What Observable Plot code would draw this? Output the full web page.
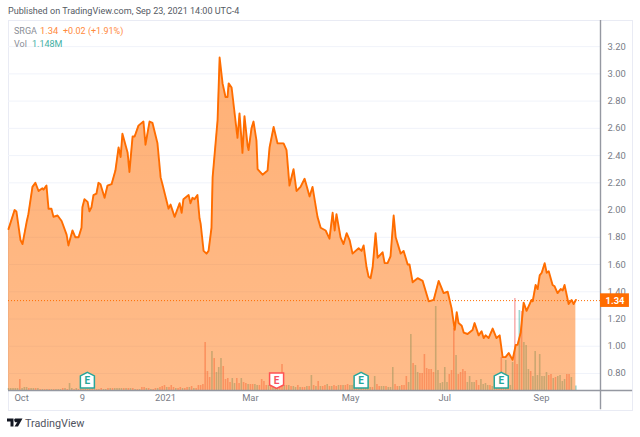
<!DOCTYPE html>
<html>
<head>
<meta charset="utf-8">
<script src="https://cdn.jsdelivr.net/npm/d3@7"></script>
<script src="https://cdn.jsdelivr.net/npm/@observablehq/plot@0.6"></script>
<style>
html,body{margin:0;padding:0;background:#fff;}
#page{position:relative;width:640px;height:437px;overflow:hidden;font-family:Roboto,sans-serif;}
#frame{position:absolute;left:8px;top:20px;width:623px;height:389px;border:1px solid #e9ebf4;box-sizing:content-box;}
#chart{position:absolute;left:0;top:0;}
.t{position:absolute;white-space:nowrap;line-height:12px;}
</style>
</head>
<body>
<div id="page">
  <div id="frame"></div>
  <div id="chart"></div>
  <div class="t" style="left:8px;top:5px;font-size:9.05px;color:#555a63;">Published on TradingView.com, Sep 23, 2021 14:00 UTC-4</div>
  <div class="t" style="left:14px;top:25px;font-size:9px;color:#8a8e96;">SRGA</div>
  <div class="t" style="left:40px;top:25px;font-size:9.4px;color:#ff8a3c;">1.34</div>
  <div class="t" style="left:63px;top:25px;font-size:9px;color:#ff8a3c;">+0.02 (+1.91%)</div>
  <div class="t" style="left:14px;top:38px;font-size:9px;color:#8a8e96;">Vol</div>
  <div class="t" style="left:32px;top:38px;font-size:9px;color:#3fb0a4;">1.148M</div>
  <svg style="position:absolute;left:7px;top:418px" width="16" height="10" viewBox="0 0 16 10">
    <path d="M0 0.5H6.5V8.5H3.5V3.5H0Z M8 0.5H15.5L11 8.5H7.5L10.5 3.8A1.6 1.6 0 1 1 8 0.5Z" fill="#131722"/>
  </svg>
  <div class="t" style="left:25px;top:418px;font-size:10.8px;color:#50535e;">TradingView</div>
</div>
<script>
// Price line: session number (trading day since the left edge) and close
const sessions = [0,2.7,3.5,5.3,6.2,8,8.8,10.6,11.9,13.3,15,15.5,16.8,17.7,19,19.9,21.7,23.5,25.7,26.5,28.3,29.6,31,32.3,32.7,33.6,35,35.8,36.7,37.6,38.9,39.8,40.7,42.5,43.8,45.6,47.3,48.7,49.6,50.4,52.7,53.5,54.9,55.8,57.5,59.7,60.6,62.4,63.7,65.9,67.3,68.1,70.8,71.7,73.5,75.7,76.6,77.4,79.7,80.5,81.4,82.3,83.6,84.5,85,86.3,87.6,88.5,89.8,90.3,92.5,93.4,94.7,96,96.9,97.4,98.7,101.3,102.2,103.5,104.4,105.8,106.2,107.5,108.4,109.7,110.2,112.4,114.6,115.5,117.3,119,121.7,123,124.3,126.1,127.4,129.2,131,133.2,134.5,136.7,138.1,140.3,142,143.4,144.3,145.1,146.9,148.2,149.6,150.9,152.2,154.9,156.2,157.1,158.4,159.3,160.2,161.1,162.4,163.3,165.5,166.4,167.7,169,170.4,171.3,173.5,174.8,176.6,177.4,178.8,181,183.2,185.9,188.1,190.3,192.5,194.3,196,197.4,198.3,199.1,200.5,201.4,203.1,205.3,206.2,208,209.3,210.2,211.1,212.4,214.2,215.9,217.3,218.6,219.9,221.3,223,224.4,225.2,226.6,227.9,229.2,231.4,231.9,233.2,234.1,235,235.9,237.2,238.1,239,240.7,241.6,242.9,244.3,245.2,246,247.8,249.1,250,251];
const closes = [1.86,2.00,1.99,1.78,1.75,1.91,1.97,2.17,2.20,2.14,2.16,2.15,2.18,2.01,2.01,1.95,1.96,1.92,1.82,1.74,1.85,1.80,1.80,1.87,2.02,2.08,2.06,1.99,2.02,2.11,2.12,2.20,2.19,2.09,2.18,2.19,2.29,2.46,2.39,2.56,2.42,2.28,2.54,2.54,2.62,2.65,2.48,2.65,2.64,2.49,2.24,2.19,2.01,2.04,1.95,2.05,1.98,2.08,2.11,2.05,2.09,2.08,2.11,1.94,1.90,1.70,1.68,1.70,1.87,2.24,2.66,3.12,2.93,2.83,2.83,2.93,2.90,2.53,2.71,2.42,2.69,2.47,2.44,2.60,2.65,2.51,2.30,2.26,2.29,2.46,2.61,2.49,2.49,2.44,2.18,2.30,2.14,2.17,2.23,2.10,2.17,1.95,1.87,1.85,1.79,1.98,1.85,1.97,1.80,1.75,1.83,1.78,1.68,1.72,1.70,1.74,1.58,1.51,1.50,1.58,1.83,1.65,1.69,1.61,1.61,1.66,1.96,1.80,1.68,1.70,1.60,1.60,1.47,1.50,1.48,1.33,1.34,1.48,1.39,1.40,1.28,1.12,1.25,1.17,1.15,1.10,1.09,1.12,1.17,1.08,1.11,1.06,1.08,1.06,1.13,1.06,1.08,0.92,0.92,0.95,0.90,1.01,1.01,1.10,1.32,1.26,1.34,1.33,1.45,1.42,1.52,1.54,1.61,1.54,1.55,1.45,1.44,1.39,1.42,1.41,1.45,1.31,1.34,1.31,1.34];

// Volume per session, in units of about 0.26M shares
const volumes = [2,2,2,2,2,11,2,3,3,2,2,2,2,2,1,1,1,1,1,1,1,1,1,1,2,2,1,7,2,1,2,1,1,1,1,1,1,2,1,1,1,2,1,1,2,2,2,2,2,2,2,2,2,2,2,2,1,1,1,3,3,2,2,1,1,2,2,3,4,5,3,3,5,3,2,2,3,2,2,3,3,4,2,2,5,5,6,48,19,13,39,32,18,23,32,24,11,12,8,12,7,12,7,12,8,7,6,6,6,6,5,5,11,9,5,5,6,5,5,5,6,26,5,5,5,4,4,3,5,3,3,3,4,4,15,5,4,9,4,4,5,6,4,4,5,4,5,5,5,5,6,5,5,6,4,4,4,4,4,4,3,3,14,6,4,4,4,4,3,3,23,6,4,4,5,5,14,8,56,27,25,18,17,17,36,22,21,21,18,84,20,7,8,23,8,16,20,62,35,16,18,21,19,8,14,8,8,10,5,11,6,7,5,5,4,4,4,4,33,10,30,8,5,28,92,26,80,79,48,45,21,19,14,39,15,36,14,14,18,15,16,12,13,14,15,9,11,16,16,13,0,4.4];
// 1 = up session (green bar), 0 = down session (red bar)
const upDays = [1,1,1,1,1,0,1,1,1,0,1,1,0,1,0,1,0,1,0,1,0,1,1,1,0,1,0,1,1,0,1,0,1,0,1,0,1,0,1,0,1,0,1,1,0,1,0,1,1,1,1,0,1,0,1,0,1,0,1,0,0,1,0,1,0,0,1,0,0,0,1,0,0,0,1,0,0,1,0,0,1,0,1,0,0,0,0,0,0,0,1,0,1,1,1,0,0,0,0,1,1,0,0,1,0,0,1,0,0,1,1,0,0,0,0,1,0,1,1,1,0,0,1,0,1,0,1,1,0,1,0,0,1,0,1,0,1,0,1,0,0,1,0,1,0,0,1,0,1,0,0,1,1,1,0,1,1,0,1,1,1,0,1,0,0,1,1,0,1,1,1,0,0,1,0,0,0,1,1,0,1,1,0,0,0,0,0,0,0,1,1,1,1,1,1,0,0,0,1,0,0,0,0,1,1,1,1,0,0,1,1,1,1,0,1,1,0,0,0,0,1,0,1,1,0,0,1,0,1,1,1,0,1,1,1,1,1,1,1,0,0,1,0,1,1,1,1,0,0,1,1,1];

const priceTicks = [0.8,1.0,1.2,1.4,1.6,1.8,2.0,2.2,2.4,2.6,2.8,3.0,3.2];
const dateTickSessions = [5.8,32.7,69.5,107,151.3,193,235.8];
const dateTickLabels = ["Oct","9","2021","Mar","May","Jul","Sep"];
const lastPrice = 1.335;
const lastLabel = "1.34";
const earnings = [
  {session:34.9, kind:"beat"},
  {session:156, kind:"beat"},
  {session:218, kind:"beat"},
  {session:118.6, kind:"miss"}
];

const ORANGE = "#ff6d00", TEAL = "#26a69a", RED = "#ef5350";
const yMin = 0.675, yMax = 3.392, xMax = 261.9;
const pxPerUnit = 136.2;

const priceRows = sessions.map((t,i)=>({t, p:closes[i], b:yMin}));
const volRows = volumes.map((v,i)=>({t:i, b:yMin, top:yMin + v/pxPerUnit, up:upDays[i]}));

const upFlag = {draw(c,size){const s=Math.sqrt(size/Math.PI)/7;
  c.moveTo(0,-8*s);c.lineTo(7*s,-4.5*s);c.lineTo(7*s,7.5*s);c.lineTo(-7*s,7.5*s);c.lineTo(-7*s,-4.5*s);c.closePath();}};
const downFlag = {draw(c,size){const s=Math.sqrt(size/Math.PI)/7;
  c.moveTo(-7*s,-7.5*s);c.lineTo(7*s,-7.5*s);c.lineTo(7*s,4.5*s);c.lineTo(0,8*s);c.lineTo(-7*s,4.5*s);c.closePath();}};

const gradient = () => {
  const defs = d3.create("svg:defs");
  const g = defs.append("linearGradient").attr("id","areaFill").attr("x1",0).attr("x2",0).attr("y1",0).attr("y2",1);
  g.append("stop").attr("offset","0%").attr("stop-color",ORANGE).attr("stop-opacity",0.54);
  g.append("stop").attr("offset","100%").attr("stop-color",ORANGE).attr("stop-opacity",0.46);
  return defs.node();
};

const flagY = 0.749;
const plot = Plot.plot({
  width:640, height:437,
  marginLeft:8, marginRight:40, marginTop:20, marginBottom:47,
  style:{fontFamily:"Roboto, sans-serif", fontSize:"10px", background:"transparent", overflow:"visible"},
  x:{domain:[0,xMax], axis:null},
  y:{domain:[yMin,yMax], axis:null},
  marks:[
    gradient,
    Plot.ruleY(priceTicks,{stroke:"#f0f3fa", strokeWidth:1}),
    Plot.ruleX(volRows.filter(d=>d.top>d.b),{x:"t", y1:"b", y2:"top", stroke:d=>d.up?TEAL:RED, strokeOpacity:0.45, strokeWidth:1.6}),
    Plot.areaY(priceRows,{x:"t", y1:"b", y2:"p", fill:"url(#areaFill)"}),
    Plot.line(priceRows,{x:"t", y:"p", stroke:ORANGE, strokeWidth:1.9, strokeLinejoin:"round"}),
    Plot.ruleY([lastPrice],{stroke:ORANGE, strokeWidth:1, strokeDasharray:"1 2", x1:0, x2:xMax}),
    Plot.ruleY([yMin],{x1:0, x2:xMax+14.2, stroke:"#9598a1", strokeWidth:1.4}),
    Plot.ruleX([xMax],{y1:yMin-0.142, y2:yMax, stroke:"#9598a1", strokeWidth:1.4}),
    Plot.axisY({anchor:"right", ticks:priceTicks, tickFormat:d=>d.toFixed(2), tickSize:0, tickPadding:7, fontSize:9.4, color:"#787b86", label:null}),
    Plot.axisX({anchor:"bottom", ticks:dateTickSessions, tickFormat:(d,i)=>dateTickLabels[i], tickSize:0, tickPadding:4, fontSize:9.4, color:"#787b86", label:null}),
    Plot.rect([lastPrice],{x1:xMax, x2:xMax+12.8, y1:d=>d-0.05, y2:d=>d+0.05, fill:ORANGE}),
    Plot.text([lastLabel],{x:xMax+6.4, y:lastPrice, text:d=>d, fill:"#fff", fontSize:9.4, fontWeight:"bold"}),
    Plot.dot(earnings.filter(d=>d.kind==="beat"),{x:"session", y:flagY, r:7, symbol:upFlag, fill:"#fff", stroke:TEAL, strokeWidth:1.5}),
    Plot.dot(earnings.filter(d=>d.kind==="miss"),{x:"session", y:flagY, r:7, symbol:downFlag, fill:"#fff", stroke:"#ff5252", strokeWidth:1.5}),
    Plot.text(earnings,{x:"session", y:flagY, text:()=>"E", fill:d=>d.kind==="beat"?TEAL:"#f7525f", fontSize:10, fontWeight:"bold"})
  ]
});
document.getElementById("chart").appendChild(plot);
</script>
</body>
</html>
